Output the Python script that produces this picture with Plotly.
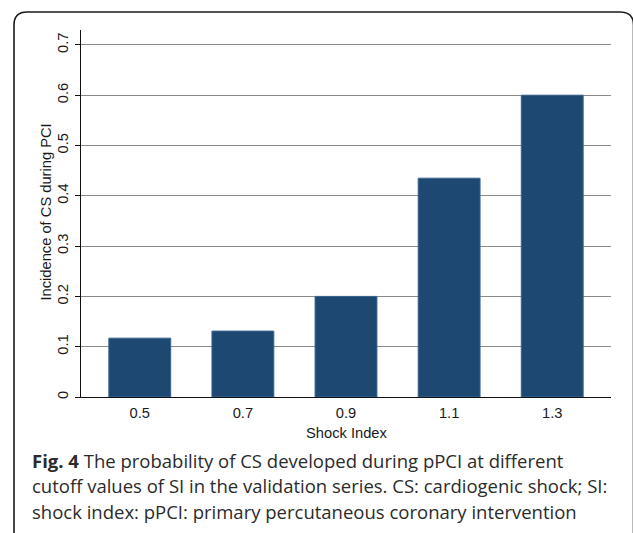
import plotly.graph_objects as go

# ---- data ----
categories = ["0.5", "0.7", "0.9", "1.1", "1.3"]
incidence = [0.117, 0.131, 0.200, 0.435, 0.600]
y_tick_vals = [0, 0.1, 0.2, 0.3, 0.4, 0.5, 0.6, 0.7]
y_tick_text = ["0", "0.1", "0.2", "0.3", "0.4", "0.5", "0.6", "0.7"]
x_title = "Shock Index"
y_title = "Incidence of CS during PCI"
caption_lines = [
    "<b>Fig. 4</b> The probability of CS developed during pPCI at different",
    "cutoff values of SI in the validation series. CS: cardiogenic shock; SI:",
    "shock index: pPCI: primary percutaneous coronary intervention",
]

# ---- geometry (pixels) ----
W, H = 633, 533
L, R, T, B = 81, 611, 30, 397


def px(x):
    return (x - L) / (R - L)


def py(y):
    return (B - y) / (B - T)


AX_FONT = dict(family="Liberation Sans, Arial, sans-serif", size=14.7, color="#1a1a1a")

fig = go.Figure()
fig.add_trace(
    go.Bar(
        x=categories,
        y=incidence,
        width=0.6,
        marker=dict(color="#1d4872", line=dict(color="#3a648c", width=1)),
        showlegend=False,
        hoverinfo="x+y",
    )
)

fig.update_layout(
    width=W,
    height=H,
    margin=dict(l=L, r=W - R, t=T, b=H - B, pad=0),
    paper_bgcolor="white",
    plot_bgcolor="white",
    font=AX_FONT,
    bargap=0.4,
)

fig.update_xaxes(
    type="category",
    range=[-0.57, 4.57],
    showline=True,
    linecolor="#111111",
    linewidth=1.3,
    ticks="",
    showgrid=False,
    tickfont=AX_FONT,
    ticklabelstandoff=2,
    automargin=False,
)

fig.update_yaxes(
    range=[0, 0.7296],
    tickvals=y_tick_vals,
    ticktext=y_tick_text,
    tickangle=-90,
    ticks="outside",
    ticklen=5,
    tickcolor="#111111",
    tickwidth=1.2,
    showline=True,
    linecolor="#111111",
    linewidth=1.3,
    showgrid=True,
    gridcolor="#8a8a8a",
    gridwidth=1.2,
    zeroline=False,
    tickfont=AX_FONT,
    ticklabelstandoff=1,
    automargin=False,
)

# axis titles
fig.add_annotation(
    text=x_title, xref="paper", yref="paper",
    x=0.5, y=py(433), xanchor="center", yanchor="middle",
    showarrow=False, font=AX_FONT,
)
fig.add_annotation(
    text=y_title, xref="paper", yref="paper",
    x=px(45.5), y=py(212), xanchor="center", yanchor="middle", textangle=-90,
    showarrow=False, font=AX_FONT,
)

# rounded border of the figure panel
border = (
    f"M {px(14)},{py(545)} L {px(14)},{py(25)} "
    f"Q {px(14)},{py(12)} {px(27)},{py(12)} "
    f"L {px(620)},{py(12)} Q {px(633.5)},{py(12)} {px(633.5)},{py(25)} "
    f"L {px(633.5)},{py(545)}"
)
fig.add_shape(
    type="path",
    path=border,
    xref="paper",
    yref="paper",
    line=dict(color="#1a1a1a", width=1.6),
    layer="above",
)

# caption lines
cap_font = dict(family="Open Sans, Noto Sans, sans-serif", size=18.5, color="#2b2b2b")
for i, line in enumerate(caption_lines):
    fig.add_annotation(
        text=line,
        xref="paper",
        yref="paper",
        x=px(30),
        y=py(461 + 25 * i),
        xanchor="left",
        yanchor="middle",
        showarrow=False,
        font=cap_font,
        align="left",
    )

fig.write_html("out.html")
